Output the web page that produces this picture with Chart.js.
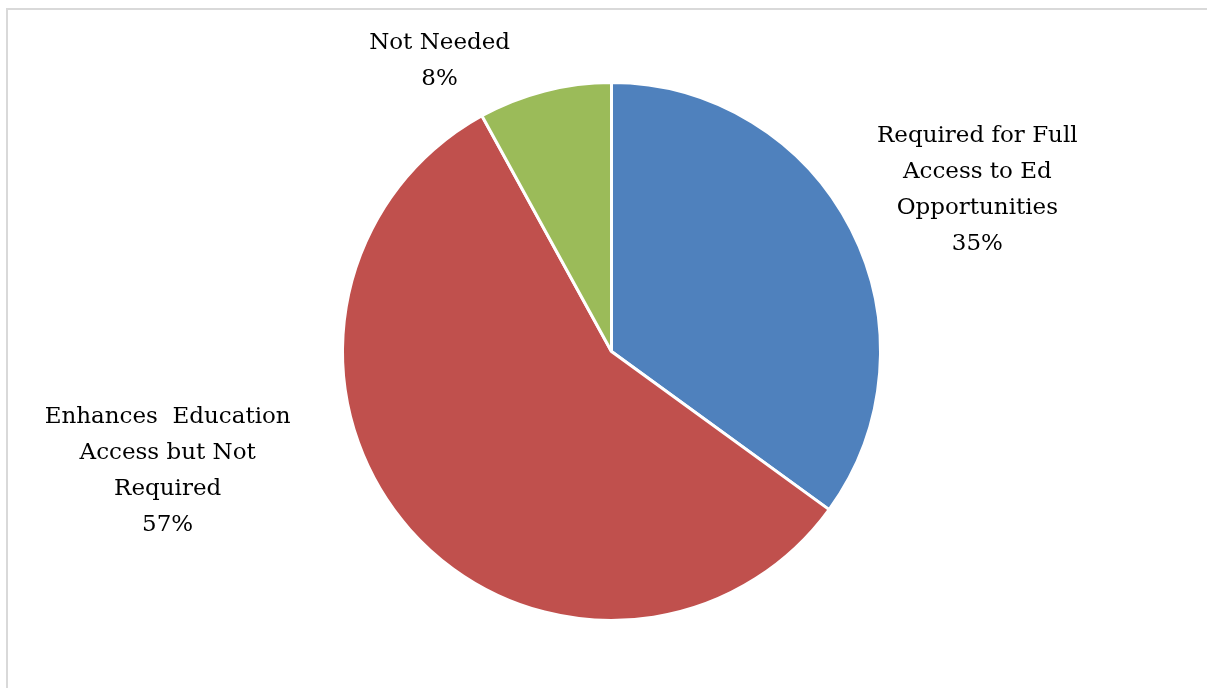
<!DOCTYPE html>
<html>
<head>
<meta charset="utf-8">
<script src="https://cdn.jsdelivr.net/npm/chart.js@4/dist/chart.umd.min.js"></script>
<style>
  html, body { margin: 0; padding: 0; background: #fff; }
  #wrap { position: relative; width: 1207px; height: 688px; overflow: hidden; }
</style>
</head>
<body>
<div id="wrap"><canvas id="pie" width="1207" height="688"></canvas></div>
<script>
// categories (already wrapped the way they're shown) and shares in percent
const categories = [
  ['Required for Full', 'Access to Ed', 'Opportunities'],
  ['Enhances  Education', 'Access but Not', 'Required'],
  ['Not Needed']
];
const shares = [35, 57, 8];
const sliceColors = ['#4F81BD', '#C0504D', '#9BBB59'];

// label centre relative to the pie centre, in pie radii
const labelOffsets = [
  { dx: 1.36, dy: -0.6 },
  { dx: -1.65, dy: 0.445 },
  { dx: -0.639, dy: -1.078 }
];

const FONT = '23px "DejaVu Serif", "Liberation Serif", serif';
const LINE_H = 36;

const framePlugin = {
  id: 'frame',
  beforeDraw(chart) {
    const c = chart.ctx;
    c.save();
    c.strokeStyle = '#d9d9d9';
    c.lineWidth = 2;
    c.beginPath();
    c.moveTo(7, chart.height);
    c.lineTo(7, 9);
    c.lineTo(chart.width, 9);
    c.stroke();
    c.restore();
  }
};

const sliceLabels = {
  id: 'sliceLabels',
  afterDatasetsDraw(chart) {
    const c = chart.ctx;
    const meta = chart.getDatasetMeta(0);
    const vals = chart.data.datasets[0].data;
    const total = vals.reduce((a, b) => a + b, 0);
    c.save();
    c.font = FONT;
    c.fillStyle = '#000';
    c.textAlign = 'center';
    c.textBaseline = 'middle';
    meta.data.forEach((arc, i) => {
      const r = arc.outerRadius;
      const off = labelOffsets[i];
      const cx = arc.x + off.dx * r;
      const cy = arc.y + off.dy * r;
      const lines = [...chart.data.labels[i], Math.round(vals[i] / total * 100) + '%'];
      const top = cy - (lines.length - 1) * LINE_H / 2;
      lines.forEach((t, k) => c.fillText(t, cx, top + k * LINE_H));
    });
    c.restore();
  }
};

new Chart(document.getElementById('pie'), {
  type: 'pie',
  data: {
    labels: categories,
    datasets: [{
      data: shares,
      backgroundColor: sliceColors,
      borderColor: '#ffffff',
      borderWidth: 3
    }]
  },
  options: {
    responsive: false,
    animation: false,
    layout: { padding: { top: 81, bottom: 66, left: 341, right: 325 } },
    plugins: {
      legend: { display: false },
      tooltip: { enabled: false }
    }
  },
  plugins: [framePlugin, sliceLabels]
});
</script>
</body>
</html>
